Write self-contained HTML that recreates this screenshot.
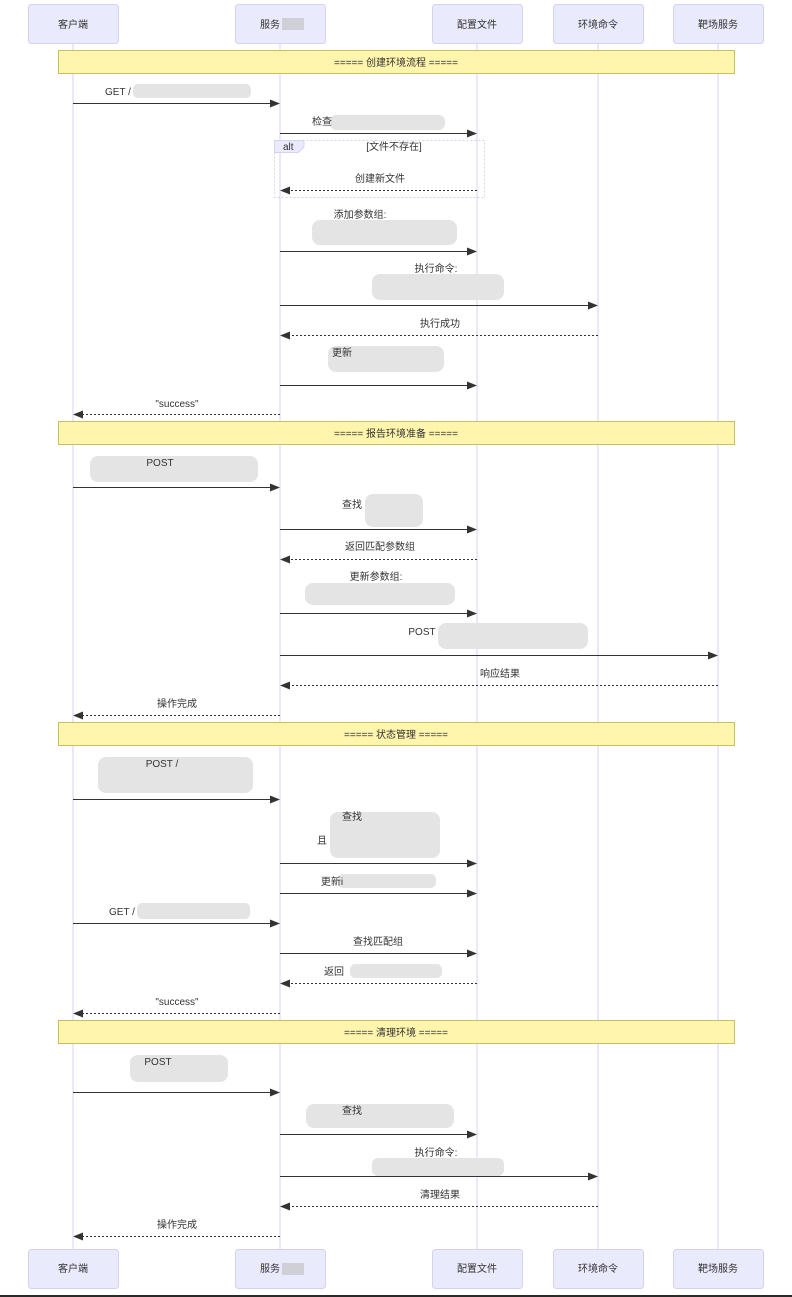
<!DOCTYPE html>
<html><head><meta charset="utf-8"><style>
html,body{margin:0;padding:0;background:#fff;width:792px;height:1297px;overflow:hidden}
svg{display:block}
text{font-family:"Liberation Sans","Noto Sans CJK SC",sans-serif;font-size:10px;fill:#333}
.a{font-family:"Liberation Sans","Noto Sans CJK SC",sans-serif}
</style></head><body>
<svg width="792" height="1297" viewBox="0 0 792 1297" xmlns="http://www.w3.org/2000/svg">
<defs>
<marker id="ar" markerWidth="10" markerHeight="8" refX="9" refY="4" orient="auto" markerUnits="userSpaceOnUse"><path d="M0,0 L10,4 L0,8 z" fill="#333"/></marker>
</defs>
<g stroke="#d6d0f5" stroke-width="1">
<line x1="73" y1="44" x2="73" y2="1249"/>
<line x1="280" y1="44" x2="280" y2="1249"/>
<line x1="477" y1="44" x2="477" y2="1249"/>
<line x1="598" y1="44" x2="598" y2="1249"/>
<line x1="718" y1="44" x2="718" y2="1249"/>
</g>
<g fill="#eaeafd" stroke="#d6d0f5">
<rect x="28.5" y="4.5" width="90" height="39" rx="3"/>
<rect x="235.5" y="4.5" width="90" height="39" rx="3"/>
<rect x="432.5" y="4.5" width="90" height="39" rx="3"/>
<rect x="553.5" y="4.5" width="90" height="39" rx="3"/>
<rect x="673.5" y="4.5" width="90" height="39" rx="3"/>
<rect x="28.5" y="1249.5" width="90" height="39" rx="3"/>
<rect x="235.5" y="1249.5" width="90" height="39" rx="3"/>
<rect x="432.5" y="1249.5" width="90" height="39" rx="3"/>
<rect x="553.5" y="1249.5" width="90" height="39" rx="3"/>
<rect x="673.5" y="1249.5" width="90" height="39" rx="3"/>
</g>
<g text-anchor="middle">
<text x="73" y="28">客户端</text><text x="270" y="28">服务</text>
<text x="477" y="28">配置文件</text><text x="598" y="28">环境命令</text><text x="718" y="28">靶场服务</text>
<text x="73" y="1272">客户端</text><text x="270" y="1272">服务</text>
<text x="477" y="1272">配置文件</text><text x="598" y="1272">环境命令</text><text x="718" y="1272">靶场服务</text>
</g>
<g fill="#cfcfd6"><rect x="282" y="18" width="22" height="12"/><rect x="282" y="1263" width="22" height="12"/></g>
<!-- notes -->
<g fill="#fff5ad" stroke="#c8c060">
<rect x="58.5" y="50.5" width="676" height="23"/>
<rect x="58.5" y="421.5" width="676" height="23"/>
<rect x="58.5" y="722.5" width="676" height="23"/>
<rect x="58.5" y="1020.5" width="676" height="23"/>
</g>
<g text-anchor="middle">
<text x="396" y="66">===== 创建环境流程 =====</text>
<text x="396" y="437">===== 报告环境准备 =====</text>
<text x="396" y="738">===== 状态管理 =====</text>
<text x="396" y="1036">===== 清理环境 =====</text>
</g>
<!-- alt -->
<rect x="274.5" y="140.5" width="210" height="57" fill="none" stroke="#d6d0f5" stroke-dasharray="2,2"/>
<path d="M274.5,140.5 H304 V147 L298,152.5 H274.5 z" fill="#eaeafd" stroke="#d6d0f5"/>
<text x="283" y="150">alt</text>
<text x="394" y="150" text-anchor="middle">[文件不存在]</text>
<!-- blurs -->
<g fill="#e4e4e4">
<rect x="133" y="84" width="118" height="14" rx="5"/>
<rect x="330" y="115" width="115" height="15" rx="6"/>
<rect x="312" y="220" width="145" height="25" rx="8"/>
<rect x="372" y="274" width="132" height="26" rx="8"/>
<rect x="328" y="346" width="116" height="26" rx="8"/>
<rect x="90" y="456" width="168" height="26" rx="8"/>
<rect x="365" y="494" width="58" height="33" rx="8"/>
<rect x="305" y="583" width="150" height="22" rx="8"/>
<rect x="438" y="623" width="150" height="26" rx="8"/>
<rect x="98" y="757" width="155" height="36" rx="8"/>
<rect x="330" y="812" width="110" height="46" rx="8"/>
<rect x="338" y="874" width="98" height="14" rx="5"/>
<rect x="137" y="903" width="113" height="16" rx="5"/>
<rect x="350" y="964" width="92" height="14" rx="5"/>
<rect x="130" y="1055" width="98" height="27" rx="8"/>
<rect x="306" y="1104" width="148" height="24" rx="8"/>
<rect x="372" y="1158" width="132" height="18" rx="6"/>
</g>
<!-- labels -->
<g text-anchor="middle">
<text x="118" y="95">GET /</text>
<text x="322" y="125">检查</text>
<text x="380" y="182">创建新文件</text>
<text x="360" y="218">添加参数组:</text>
<text x="436" y="272">执行命令:</text>
<text x="440" y="327">执行成功</text>
<text x="342" y="356">更新</text>
<text x="177" y="407">"success"</text>
<text x="160" y="466">POST</text>
<text x="352" y="508">查找</text>
<text x="380" y="550">返回匹配参数组</text>
<text x="376" y="580">更新参数组:</text>
<text x="422" y="635">POST</text>
<text x="500" y="677">响应结果</text>
<text x="177" y="707">操作完成</text>
<text x="162" y="767">POST /</text>
<text x="352" y="820">查找</text>
<text x="322" y="844">且</text>
<text x="332" y="885">更新i</text>
<text x="122" y="915">GET /</text>
<text x="378" y="945">查找匹配组</text>
<text x="334" y="975">返回</text>
<text x="177" y="1005">"success"</text>
<text x="158" y="1065">POST</text>
<text x="352" y="1114">查找</text>
<text x="436" y="1156">执行命令:</text>
<text x="440" y="1198">清理结果</text>
<text x="177" y="1228">操作完成</text>
</g>
<!-- arrows -->
<g stroke="#333" stroke-width="1" fill="none" marker-end="url(#ar)">
<line x1="73" y1="103.5" x2="279" y2="103.5"/>
<line x1="280" y1="133.5" x2="476" y2="133.5"/>
<line x1="477" y1="190.5" x2="281" y2="190.5" stroke-dasharray="2,2"/>
<line x1="280" y1="251.5" x2="476" y2="251.5"/>
<line x1="280" y1="305.5" x2="597" y2="305.5"/>
<line x1="598" y1="335.5" x2="281" y2="335.5" stroke-dasharray="2,2"/>
<line x1="280" y1="385.5" x2="476" y2="385.5"/>
<line x1="280" y1="414.5" x2="74" y2="414.5" stroke-dasharray="2,2"/>
<line x1="73" y1="487.5" x2="279" y2="487.5"/>
<line x1="280" y1="529.5" x2="476" y2="529.5"/>
<line x1="477" y1="559.5" x2="281" y2="559.5" stroke-dasharray="2,2"/>
<line x1="280" y1="613.5" x2="476" y2="613.5"/>
<line x1="280" y1="655.5" x2="717" y2="655.5"/>
<line x1="718" y1="685.5" x2="281" y2="685.5" stroke-dasharray="2,2"/>
<line x1="280" y1="715.5" x2="74" y2="715.5" stroke-dasharray="2,2"/>
<line x1="73" y1="799.5" x2="279" y2="799.5"/>
<line x1="280" y1="863.5" x2="476" y2="863.5"/>
<line x1="280" y1="893.5" x2="476" y2="893.5"/>
<line x1="73" y1="923.5" x2="279" y2="923.5"/>
<line x1="280" y1="953.5" x2="476" y2="953.5"/>
<line x1="477" y1="983.5" x2="281" y2="983.5" stroke-dasharray="2,2"/>
<line x1="280" y1="1013.5" x2="74" y2="1013.5" stroke-dasharray="2,2"/>
<line x1="73" y1="1092.5" x2="279" y2="1092.5"/>
<line x1="280" y1="1134.5" x2="476" y2="1134.5"/>
<line x1="280" y1="1176.5" x2="597" y2="1176.5"/>
<line x1="598" y1="1206.5" x2="281" y2="1206.5" stroke-dasharray="2,2"/>
<line x1="280" y1="1236.5" x2="74" y2="1236.5" stroke-dasharray="2,2"/>
</g>
<rect x="0" y="1295" width="792" height="2" fill="#2a2a2a"/>
</svg>
</body></html>
